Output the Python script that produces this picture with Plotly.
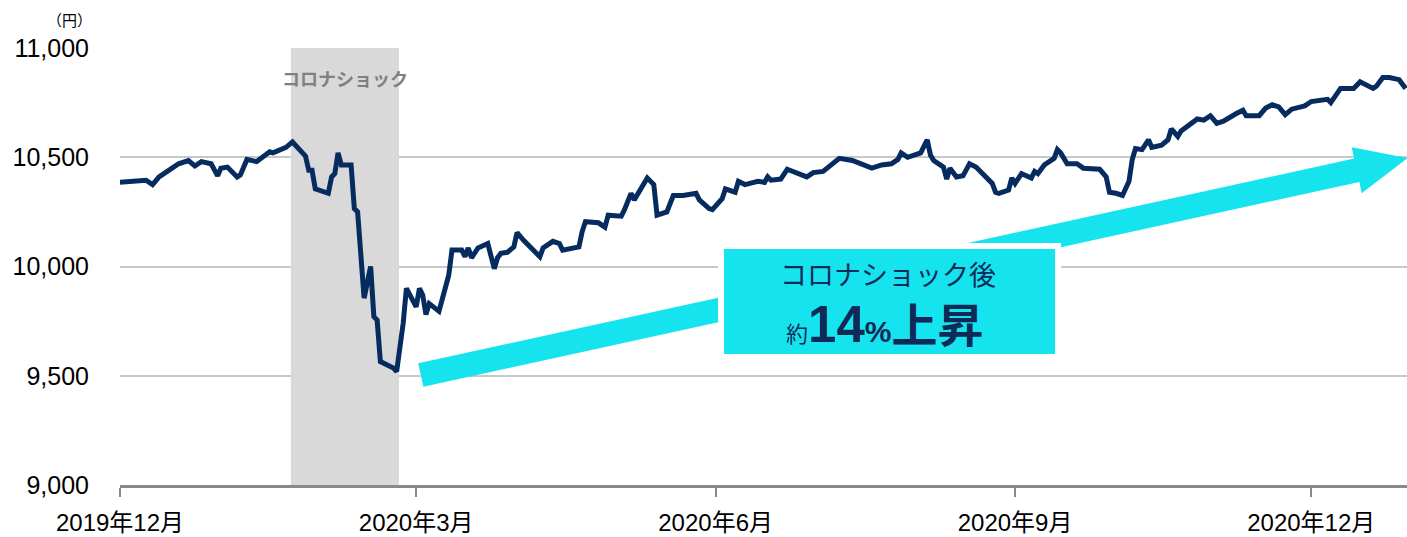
import plotly.graph_objects as go

# 基準価額の推移 (円)
dates = [
    "2019-12-01", "2019-12-09", "2019-12-11", "2019-12-13", "2019-12-17", "2019-12-19",
    "2019-12-22", "2019-12-24", "2019-12-26", "2019-12-29", "2019-12-31",
    "2020-01-01", "2020-01-03", "2020-01-06", "2020-01-07", "2020-01-09", "2020-01-12",
    "2020-01-16", "2020-01-17", "2020-01-20", "2020-01-21", "2020-01-23", "2020-01-24",
    "2020-01-27", "2020-01-28", "2020-01-29", "2020-01-30",
    "2020-02-03", "2020-02-04", "2020-02-05", "2020-02-06", "2020-02-07", "2020-02-10",
    "2020-02-11", "2020-02-12", "2020-02-14", "2020-02-16", "2020-02-17", "2020-02-18",
    "2020-02-19", "2020-02-23", "2020-02-24", "2020-02-26", "2020-02-27",
    "2020-03-01", "2020-03-02", "2020-03-03", "2020-03-04", "2020-03-05", "2020-03-08",
    "2020-03-10", "2020-03-11", "2020-03-12", "2020-03-15", "2020-03-16", "2020-03-17",
    "2020-03-18", "2020-03-20", "2020-03-23", "2020-03-25", "2020-03-26", "2020-03-27",
    "2020-03-29", "2020-03-31",
    "2020-04-01", "2020-04-03", "2020-04-08", "2020-04-09", "2020-04-12", "2020-04-14",
    "2020-04-15", "2020-04-20", "2020-04-21", "2020-04-22", "2020-04-26", "2020-04-28",
    "2020-04-29",
    "2020-05-03", "2020-05-04", "2020-05-06", "2020-05-07", "2020-05-11", "2020-05-13",
    "2020-05-14", "2020-05-17", "2020-05-19", "2020-05-22", "2020-05-26", "2020-05-27",
    "2020-05-30", "2020-05-31",
    "2020-06-03", "2020-06-04", "2020-06-07", "2020-06-08", "2020-06-10", "2020-06-14",
    "2020-06-16", "2020-06-17", "2020-06-18", "2020-06-21", "2020-06-23", "2020-06-29",
    "2020-07-01", "2020-07-04", "2020-07-09", "2020-07-13", "2020-07-15", "2020-07-19",
    "2020-07-22", "2020-07-25", "2020-07-27", "2020-07-28", "2020-07-30",
    "2020-08-03", "2020-08-05", "2020-08-06", "2020-08-07", "2020-08-10", "2020-08-11",
    "2020-08-12", "2020-08-14", "2020-08-16", "2020-08-18", "2020-08-20", "2020-08-25",
    "2020-08-26", "2020-08-27", "2020-08-30", "2020-08-31",
    "2020-09-01", "2020-09-03", "2020-09-06", "2020-09-07", "2020-09-08", "2020-09-10",
    "2020-09-13", "2020-09-14", "2020-09-15", "2020-09-17", "2020-09-20", "2020-09-22",
    "2020-09-23", "2020-09-27", "2020-09-29", "2020-09-30",
    "2020-10-02", "2020-10-04", "2020-10-06", "2020-10-07", "2020-10-08", "2020-10-10",
    "2020-10-12", "2020-10-13", "2020-10-16", "2020-10-18", "2020-10-19", "2020-10-21",
    "2020-10-22", "2020-10-25", "2020-10-27", "2020-10-29", "2020-10-31",
    "2020-11-02", "2020-11-04", "2020-11-08", "2020-11-10", "2020-11-11", "2020-11-15",
    "2020-11-17", "2020-11-19", "2020-11-21", "2020-11-23", "2020-11-25", "2020-11-29",
    "2020-12-01", "2020-12-06", "2020-12-07", "2020-12-08", "2020-12-10", "2020-12-14",
    "2020-12-16", "2020-12-20", "2020-12-21", "2020-12-23", "2020-12-25", "2020-12-28",
    "2020-12-30",
]
nav = [
    10385, 10395, 10375, 10410, 10450, 10470,
    10485, 10460, 10480, 10470, 10415,
    10450, 10455, 10410, 10420, 10490, 10480,
    10525, 10520, 10540, 10545, 10570, 10555,
    10505, 10440, 10440, 10355,
    10335, 10410, 10425, 10520, 10465, 10465,
    10265, 10250, 9855, 10000, 9770, 9755,
    9565, 9535, 9520, 9740, 9900,
    9815, 9900, 9870, 9780, 9830, 9795,
    9905, 9960, 10075, 10075, 10045, 10085,
    10040, 10085, 10105, 9990, 10040, 10060,
    10065, 10090,
    10155, 10120, 10045, 10085, 10115, 10105,
    10075, 10090, 10160, 10205, 10200, 10180,
    10235,
    10230, 10260, 10335, 10305, 10405, 10375,
    10235, 10250, 10325, 10325, 10335, 10305,
    10265, 10260,
    10310, 10355, 10340, 10390, 10375, 10390,
    10385, 10410, 10395, 10400, 10445, 10410,
    10430, 10435, 10495, 10485, 10475, 10450,
    10465, 10470, 10490, 10520, 10500,
    10520, 10580, 10510, 10485, 10455, 10400,
    10450, 10410, 10415, 10470, 10455, 10380,
    10340, 10335, 10350, 10405,
    10380, 10425, 10405, 10435, 10425, 10465,
    10495, 10535, 10520, 10470, 10470, 10450,
    10450, 10445, 10410, 10340,
    10335, 10325, 10390, 10490, 10540, 10535,
    10580, 10545, 10555, 10580, 10630, 10595,
    10620, 10650, 10675, 10670, 10690,
    10655, 10665, 10700, 10715, 10690, 10690,
    10725, 10740, 10730, 10695, 10720, 10735,
    10755, 10765, 10750, 10775, 10815, 10815,
    10845, 10815, 10825, 10865, 10865, 10855,
    10815,
]

x_tick_vals = ["2019-12-01", "2020-03-01", "2020-06-01", "2020-09-01", "2020-12-01"]
x_tick_text = ["2019年12月", "2020年3月", "2020年6月", "2020年9月", "2020年12月"]
y_tick_vals = [9000, 9500, 10000, 10500, 11000]

shock_period = ["2020-01-22 12:00", "2020-02-24 17:00"]

NAVY = "#062b5f"
CYAN = "#15e4ef"
TEXT_NAVY = "#0f2a57"
FONT = "Liberation Sans, Arial, Noto Sans CJK JP, sans-serif"

fig = go.Figure()
fig.add_trace(go.Scatter(
    x=dates, y=nav, mode="lines",
    line=dict(color=NAVY, width=5),
    hoverinfo="skip",
))

# コロナショック期間の網掛け
fig.add_shape(type="rect", xref="x", yref="y",
              x0=shock_period[0], x1=shock_period[1], y0=9000, y1=11000,
              fillcolor="#d9d9d9", line_width=0, layer="between")

# 上昇を示す矢印 (paper座標)
arrow = [(0.2317, 0.2785), (0.9589, 0.7469), (0.9570, 0.7728), (1.0004, 0.7483),
         (0.9648, 0.6675), (0.9630, 0.6934), (0.2357, 0.2249)]
path = "M " + " L ".join(f"{px},{py}" for px, py in arrow) + " Z"
fig.add_shape(type="path", xref="paper", yref="paper", path=path,
              fillcolor=CYAN, line_width=0, layer="above")

# テキストボックス
fig.add_shape(type="rect", xref="paper", yref="paper",
              x0=0.4670, x1=0.7289, y0=0.2929, y1=0.5469,
              fillcolor=CYAN, line=dict(color="white", width=6), layer="above")

fig.add_annotation(xref="paper", yref="paper", x=0.5967, y=0.4851,
                   xanchor="center", yanchor="middle",
                   text="コロナショック後", showarrow=False,
                   font=dict(family="Noto Sans CJK JP", size=27, color=TEXT_NAVY))
fig.add_annotation(xref="paper", yref="paper", x=0.5944, y=0.3730,
                   xanchor="center", yanchor="middle",
                   text=("<span style='font-size:22px'>約</span>"
                         "<b><span style='font-size:51px;font-family:Liberation Sans'>14</span></b>"
                         "<b><span style='font-size:30px;font-family:Liberation Sans'>%</span></b>"
                         "<b>上昇</b>"),
                   showarrow=False,
                   font=dict(family="Noto Sans CJK JP", size=46, color=TEXT_NAVY))

fig.add_annotation(xref="x", yref="paper", x="2020-02-08", y=0.9314,
                   xanchor="center", yanchor="middle",
                   text="<b>コロナショック</b>", showarrow=False,
                   font=dict(family="Noto Sans CJK JP", size=18, color="#808080"))

fig.add_annotation(xref="paper", yref="paper", x=-0.0389, y=1.066,
                   xanchor="center", yanchor="middle",
                   text="（円）", showarrow=False,
                   font=dict(family="Noto Sans CJK JP", size=15, color="#000000"))

fig.update_layout(
    width=1407, height=537, autosize=False,
    margin=dict(l=120, r=0, t=48, b=52, autoexpand=False),
    paper_bgcolor="white", plot_bgcolor="white",
    showlegend=False,
    font=dict(family=FONT, size=24, color="#000000"),
    xaxis=dict(
        type="date",
        range=["2019-12-01", "2020-12-30 10:00"],
        tickvals=x_tick_vals, ticktext=x_tick_text,
        showgrid=False, zeroline=False,
        showline=True, linecolor="#898989", linewidth=3,
        ticks="outside", ticklen=9, tickwidth=1.5, tickcolor="#898989",
        ticklabelstandoff=5,
        tickfont=dict(size=24),
        automargin=False,
    ),
    yaxis=dict(
        range=[9000, 11000],
        tickvals=y_tick_vals, tickformat=",",
        showgrid=True, gridcolor="#c8c8c8", gridwidth=2,
        zeroline=False, showline=False, ticks="",
        ticklabelstandoff=30,
        tickfont=dict(size=25),
        automargin=False,
    ),
)

fig.write_html(
    "out.html",
    config={"responsive": False, "displayModeBar": False},
    post_script="document.body.style.margin='0';document.body.style.overflow='hidden';",
)
